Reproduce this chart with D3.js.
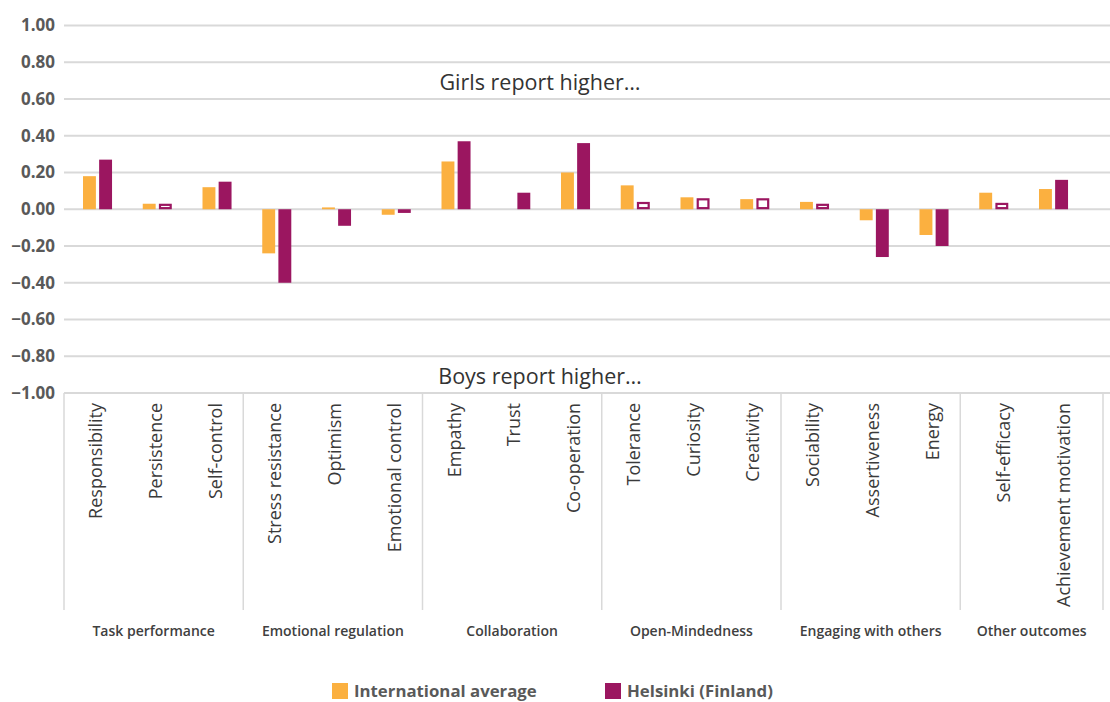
<!DOCTYPE html>
<html><head><meta charset="utf-8">
<script src="https://cdn.jsdelivr.net/npm/d3@7"></script>
<style>
body{margin:0;background:#fff;}
svg{display:block;font-family:"Open Sans","Noto Sans",sans-serif;}
</style></head>
<body><svg id="chart" width="1110" height="702"></svg>
<script>
const categories = ["Responsibility","Persistence","Self-control","Stress resistance","Optimism","Emotional control","Empathy","Trust","Co-operation","Tolerance","Curiosity","Creativity","Sociability","Assertiveness","Energy","Self-efficacy","Achievement motivation"];
const groups = ["Task performance","Task performance","Task performance","Emotional regulation","Emotional regulation","Emotional regulation","Collaboration","Collaboration","Collaboration","Open-Mindedness","Open-Mindedness","Open-Mindedness","Engaging with others","Engaging with others","Engaging with others","Other outcomes","Other outcomes"];
const internationalAvg = [0.18,0.03,0.12,-0.24,0.01,-0.03,0.26,0,0.20,0.13,0.065,0.055,0.04,-0.06,-0.14,0.09,0.11];
const helsinki = [0.27,0.03,0.15,-0.40,-0.09,-0.02,0.37,0.09,0.36,0.04,0.06,0.06,0.03,-0.26,-0.20,0.035,0.16];
const helsinkiSignificant = [true,false,true,true,true,false,true,true,true,false,false,false,false,true,true,false,true];
const yTicks = [1,0.8,0.6,0.4,0.2,0,-0.2,-0.4,-0.6,-0.8,-1];
const seriesNames = ["International average","Helsinki (Finland)"];
const colors = ["#fbb040","#9b1660"];

const svg = d3.select("#chart");
const left = 64, gridRight = 1110, axisRight = 1103;
const y = d3.scaleLinear().domain([-1,1]).range([393,25.5]);
const x = d3.scaleBand().domain(categories).range([left, left + 17*59.75]);
const inner = d3.scaleBand().domain(seriesNames)
  .range([x.bandwidth()*0.318, x.bandwidth()*0.804]).paddingInner(0.2);

// gridlines
svg.append("g").selectAll("line").data(yTicks).join("line")
  .attr("x1", left).attr("x2", gridRight)
  .attr("y1", d=>y(d)).attr("y2", d=>y(d))
  .attr("stroke", "#d9d9d9").attr("stroke-width", 1.8);

// y axis labels
const yAxis = d3.axisLeft(y).tickValues(yTicks).tickFormat(d3.format(".2f")).tickSize(0).tickPadding(0);
const yg = svg.append("g").attr("transform", `translate(${left-9},0)`).call(yAxis);
yg.select(".domain").remove();
yg.selectAll("text").attr("font-size", 17).attr("font-weight", "bold")
  .attr("fill", "#595959").attr("font-family", "'Open Sans','Noto Sans',sans-serif");

// bars
const barsG = svg.append("g");
categories.forEach((c,i)=>{
  const vals = [internationalAvg[i], helsinki[i]];
  vals.forEach((v,s)=>{
    const bx = x(c) + inner(seriesNames[s]);
    const bw = inner.bandwidth();
    const y0 = y(Math.max(0,v)), y1 = y(Math.min(0,v));
    if (s === 1 && !helsinkiSignificant[i]) {
      const sw = 2.2;
      barsG.append("rect").attr("x", bx+sw/2).attr("y", y0+sw/2)
        .attr("width", bw-sw).attr("height", Math.max(0.5, y1-y0-sw))
        .attr("fill", "#fff").attr("stroke", colors[1]).attr("stroke-width", sw);
    } else {
      barsG.append("rect").attr("x", bx).attr("y", y0)
        .attr("width", bw).attr("height", y1-y0).attr("fill", colors[s]);
    }
  });
});

// annotations
svg.append("text").attr("x", 540).attr("y", 90).attr("text-anchor","middle")
  .attr("font-size", 21.5).attr("fill", "#333").text("Girls report higher…");
svg.append("text").attr("x", 540).attr("y", 384).attr("text-anchor","middle")
  .attr("font-size", 21.5).attr("fill", "#333").text("Boys report higher…");

// category axis box
const axTop = y(-1), axBottom = 610;
const groupNames = Array.from(new Set(groups));
const groupExtents = groupNames.map((g,gi)=>{
  const idx = groups.map((d,i)=>d===g?i:-1).filter(i=>i>=0);
  const x0 = x(categories[idx[0]]);
  const x1 = gi === groupNames.length-1 ? axisRight : x(categories[idx[idx.length-1]]) + x.step();
  return {g, x0, x1, last: gi === groupNames.length-1};
});
const axG = svg.append("g");
axG.append("line").attr("x1", left).attr("x2", axisRight).attr("y1", axTop).attr("y2", axTop)
  .attr("stroke","#d9d9d9").attr("stroke-width",1.8);
const seps = [left].concat(groupExtents.map(d=>d.x1));
axG.selectAll("line.sep").data(seps).join("line").attr("class","sep")
  .attr("x1", d=>d).attr("x2", d=>d).attr("y1", axTop).attr("y2", axBottom)
  .attr("stroke","#d9d9d9").attr("stroke-width",1.5);

// category labels
categories.forEach((c,i)=>{
  const lastGroup = groups[i] === groupNames[groupNames.length-1];
  const cx = x(c) + x.bandwidth()/2 + 2 + (lastGroup ? 12 : 0);
  axG.append("text").attr("transform", `translate(${cx},${axTop+10}) rotate(-90)`)
    .attr("text-anchor","end").attr("dy","0.35em")
    .attr("font-size", 18).attr("fill","#3a3a3a").text(c);
});
// group labels
axG.selectAll("text.grp").data(groupExtents).join("text").attr("class","grp")
  .attr("x", d=>(d.x0+d.x1)/2).attr("y", 636).attr("text-anchor","middle")
  .attr("font-size", 14).attr("font-weight",600).attr("fill","#404040").text(d=>d.g);

// legend
const legendX = [332, 605];
const lg = svg.append("g");
seriesNames.forEach((n,i)=>{
  lg.append("rect").attr("x", legendX[i]).attr("y", 683).attr("width", 16).attr("height", 16).attr("fill", colors[i]);
  lg.append("text").attr("x", legendX[i]+22).attr("y", 697).attr("font-size", 16.8)
    .attr("font-weight","bold").attr("fill","#595959").text(n);
});
</script></body></html>
